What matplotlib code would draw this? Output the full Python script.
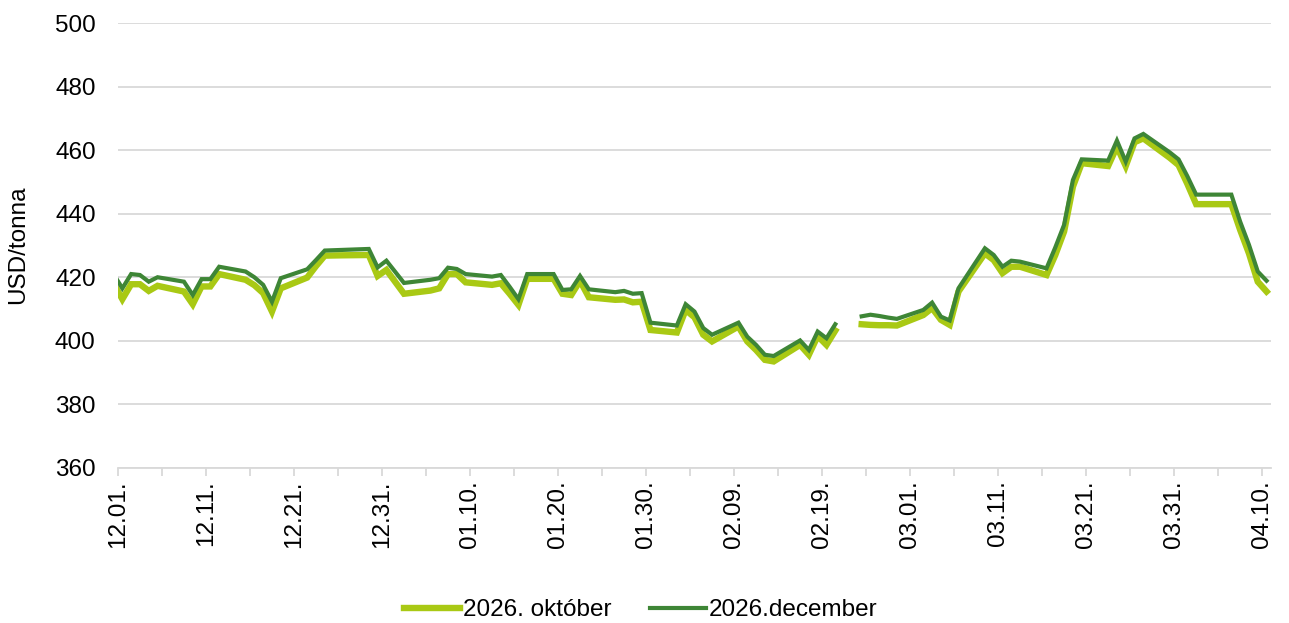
import numpy as np
import pandas as pd
import matplotlib
matplotlib.use('Agg')
import matplotlib.pyplot as plt
import matplotlib.dates as mdates

plt.rcParams['font.family'] = ['Liberation Sans', 'DejaVu Sans']

# Adatok - kereskedési napok (hétköznapok), NaN = hiányzó érték
dates = [
    '2025-11-28',
    '2025-12-01', '2025-12-02', '2025-12-03', '2025-12-04', '2025-12-05',
    '2025-12-08', '2025-12-09', '2025-12-10', '2025-12-11', '2025-12-12',
    '2025-12-15', '2025-12-16', '2025-12-17', '2025-12-18', '2025-12-19',
    '2025-12-22', '2025-12-23', '2025-12-24', '2025-12-26',
    '2025-12-29', '2025-12-30', '2025-12-31', '2026-01-02',
    '2026-01-05', '2026-01-06', '2026-01-07', '2026-01-08', '2026-01-09',
    '2026-01-12', '2026-01-13', '2026-01-14', '2026-01-15', '2026-01-16',
    '2026-01-19', '2026-01-20', '2026-01-21', '2026-01-22', '2026-01-23',
    '2026-01-26', '2026-01-27', '2026-01-28', '2026-01-29', '2026-01-30',
    '2026-02-02', '2026-02-03', '2026-02-04', '2026-02-05', '2026-02-06',
    '2026-02-09', '2026-02-10', '2026-02-11', '2026-02-12', '2026-02-13',
    '2026-02-16', '2026-02-17', '2026-02-18', '2026-02-19', '2026-02-20',
    '2026-02-21',
    '2026-02-23', '2026-02-24', '2026-02-25', '2026-02-26', '2026-02-27',
    '2026-03-02', '2026-03-03', '2026-03-04', '2026-03-05', '2026-03-06',
    '2026-03-09', '2026-03-10', '2026-03-11', '2026-03-12', '2026-03-13',
    '2026-03-16', '2026-03-17', '2026-03-18', '2026-03-19', '2026-03-20',
    '2026-03-23', '2026-03-24', '2026-03-25', '2026-03-26', '2026-03-27',
    '2026-03-30', '2026-03-31', '2026-04-01', '2026-04-02', '2026-04-03',
    '2026-04-06', '2026-04-07', '2026-04-08', '2026-04-09', '2026-04-10',
]

oktober = [
    428.0,
    413.1, 417.8, 417.8, 415.7, 417.3,
    415.5, 411.5, 417.1, 417.1, 421.0,
    419.2, 417.5, 415.0, 409.2, 416.5,
    419.9, 423.5, 426.8, 426.9,
    427.0, 420.4, 422.3, 414.8,
    415.8, 416.5, 421.0, 421.0, 418.4,
    417.6, 418.1, 414.8, 411.3, 419.5,
    419.5, 414.8, 414.4, 418.9, 413.7,
    412.9, 413.0, 412.1, 412.3, 403.4,
    402.6, 409.7, 407.4, 401.9, 399.8,
    404.5, 399.8, 397.1, 394.0, 393.5,
    398.7, 395.6, 401.5, 398.7, 403.2,
    np.nan,
    405.2, 405.0, 404.9, 404.9, 404.8,
    408.1, 410.3, 406.6, 405.0, 415.5,
    427.5, 425.4, 421.3, 423.3, 423.3,
    420.7, 427.0, 434.4, 448.5, 455.9,
    455.0, 461.1, 455.0, 462.5, 463.7,
    457.6, 455.3, 449.4, 443.0, 443.0,
    443.0, 434.9, 427.5, 418.6, 415.5,
]

december = [
    430.0,
    416.5, 421.0, 420.7, 418.6, 420.0,
    418.6, 414.4, 419.4, 419.4, 423.3,
    421.8, 420.0, 417.6, 412.3, 419.7,
    422.5, 425.4, 428.4, 428.6,
    428.9, 423.1, 425.2, 418.2,
    419.2, 419.7, 423.0, 422.6, 421.0,
    420.2, 420.7, 417.0, 413.1, 421.0,
    421.0, 416.0, 416.2, 420.4, 416.2,
    415.3, 415.7, 414.8, 415.0, 405.7,
    404.8, 411.5, 409.2, 404.0, 401.9,
    405.7, 401.3, 398.7, 395.6, 395.2,
    400.1, 397.1, 402.9, 400.8, 405.2,
    np.nan,
    407.7, 408.2, 407.8, 407.3, 406.9,
    409.7, 412.0, 407.6, 406.4, 416.5,
    429.1, 427.0, 423.3, 425.2, 424.9,
    422.8, 429.4, 436.5, 450.6, 457.1,
    456.7, 463.0, 456.4, 463.7, 465.1,
    459.3, 457.1, 451.8, 446.0, 446.0,
    446.0, 437.5, 430.2, 421.8, 418.9,
]

labels = ['2026. október', '2026.december']
yticks = [360, 380, 400, 420, 440, 460, 480, 500]

# Excel dátumtengely: a pont a nap közepére esik
x = pd.to_datetime(dates) + pd.Timedelta(hours=12)

fig = plt.figure(figsize=(12.89, 6.23), dpi=100)
ax = fig.add_axes([0.0915, 0.249, 0.8945, 0.714])

grid_c = '#D9D9D9'
fs = 17.5
ax.plot(x, oktober, color='#A9C914', lw=4.6, label=labels[0], solid_joinstyle='miter', zorder=3)
ax.plot(x, december, color='#3E8636', lw=3.0, label=labels[1], solid_joinstyle='miter', zorder=4)

ax.set_xlim(pd.Timestamp('2025-12-01'), pd.Timestamp('2026-04-11'))
ax.set_ylim(360, 500)
ax.set_yticks(yticks)
ax.yaxis.grid(True, color=grid_c, lw=1.3)
ax.set_axisbelow(True)

major = pd.date_range('2025-12-01', '2026-04-10', freq='10D')
minor = pd.date_range('2025-12-06', '2026-04-10', freq='10D')
ax.set_xticks(major)
ax.set_xticks(minor, minor=True)
ax.xaxis.set_major_formatter(mdates.DateFormatter('%m.%d.'))
ax.tick_params(axis='x', which='both', length=6, width=1.3, color=grid_c, pad=3)
ax.tick_params(axis='x', which='major', labelsize=fs, labelrotation=90)
ax.tick_params(axis='y', length=0, pad=16, labelsize=fs)

for s in ['top', 'right', 'left']:
    ax.spines[s].set_visible(False)
ax.spines['bottom'].set_color(grid_c)
ax.spines['bottom'].set_linewidth(1.3)

fig.text(18 / 1289, 1 - 245 / 623, 'USD/tonna', rotation=90, ha='center', va='center', fontsize=fs)

fig.legend(loc='center', bbox_to_anchor=(0.497, 1 - 610 / 623), ncol=2, frameon=False,
           fontsize=fs, handlelength=2.3, handletextpad=0.1, columnspacing=1.6)

fig.savefig('out.png', dpi=100)
